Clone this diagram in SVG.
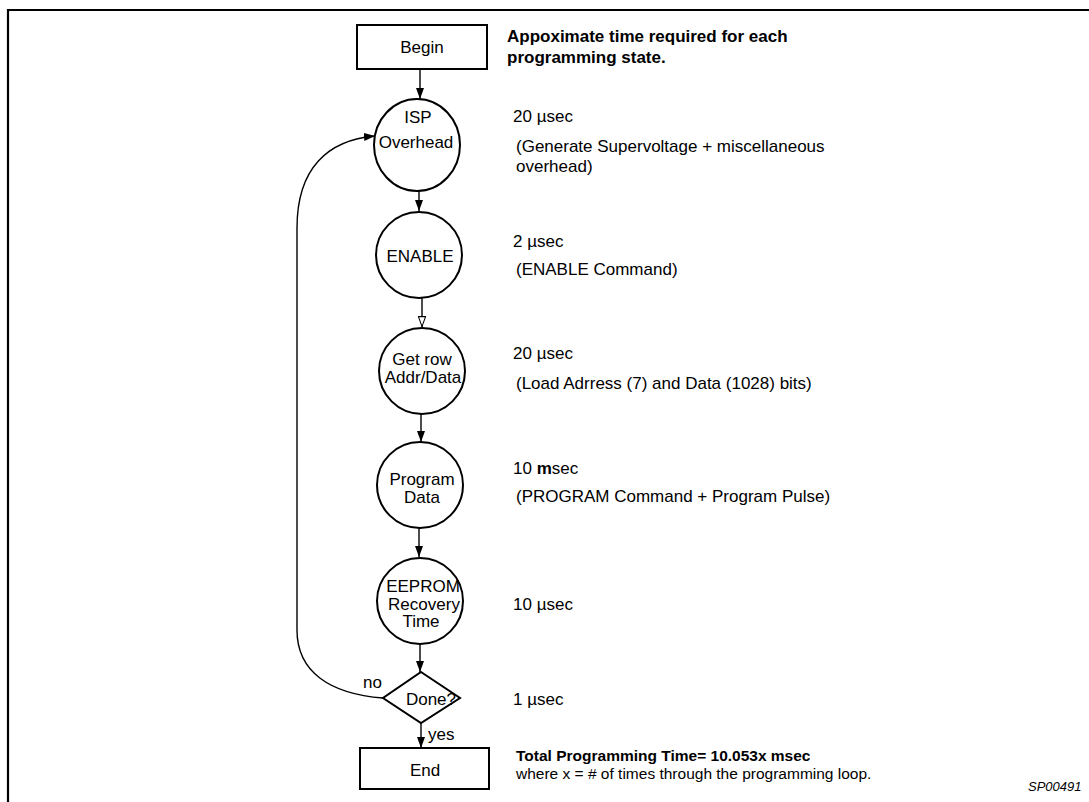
<svg xmlns="http://www.w3.org/2000/svg" width="1089" height="802" viewBox="0 0 1089 802">
<style>
text{font-family:"Liberation Sans",Arial,sans-serif;font-size:17px;fill:#000}
.c{text-anchor:middle}
.b{font-weight:bold}
.s{font-size:15.5px}
.shape{fill:#fff;stroke:#000;stroke-width:2}
.conn{fill:none;stroke:#000;stroke-width:1.4}
.frame{fill:none;stroke:#000;stroke-width:2.2}
</style>
<defs>
<marker id="ah" viewBox="0 0 10 10" refX="10" refY="5" markerWidth="11" markerHeight="8" markerUnits="userSpaceOnUse" orient="auto" preserveAspectRatio="none"><path d="M0,0 L10,5 L0,10 z" fill="#000"/></marker>
<marker id="ao" viewBox="0 0 10 10" refX="10" refY="5" markerWidth="11" markerHeight="8" markerUnits="userSpaceOnUse" orient="auto" preserveAspectRatio="none"><path d="M0.5,0.5 L9.5,5 L0.5,9.5 z" fill="#fff" stroke="#000" stroke-width="1.2"/></marker>
</defs>
<rect width="1089" height="802" fill="#fff"/>
<path class="frame" d="M8,802 L8,10 L1089,10"/>

<g id="connectors">
<path class="conn" d="M420,69 L420,99" marker-end="url(#ah)"/>
<path class="conn" d="M419,191 L419,211" marker-end="url(#ah)"/>
<path class="conn" d="M422,298 L422,327" marker-end="url(#ao)"/>
<path class="conn" d="M421,414 L421,442" marker-end="url(#ah)"/>
<path class="conn" d="M419,528 L419,557" marker-end="url(#ah)"/>
<path class="conn" d="M420,644 L420,672" marker-end="url(#ah)"/>
<path class="conn" d="M421,723 L421,748" marker-end="url(#ah)"/>
<path class="conn" d="M383,698 C330,694 297,672 297,630 L297,228 C297,168 328,140 375,136" marker-end="url(#ah)"/>
</g>

<g id="begin"><rect class="shape" x="357" y="25" width="130" height="44"/><text class="c" x="422" y="53">Begin</text></g>
<g id="isp"><ellipse class="shape" cx="417" cy="145" rx="43" ry="46"/><text class="c" x="418" y="123">ISP</text><text class="c" x="416" y="148">Overhead</text></g>
<g id="enable"><circle class="shape" cx="419" cy="255" r="43"/><text class="c" x="420" y="262">ENABLE</text></g>
<g id="getrow"><circle class="shape" cx="422" cy="371" r="43"/><text class="c" x="422" y="365">Get row</text><text class="c" x="423" y="383">Addr/Data</text></g>
<g id="program"><circle class="shape" cx="420" cy="485" r="43"/><text class="c" x="422" y="485">Program</text><text class="c" x="422" y="503">Data</text></g>
<g id="eeprom"><circle class="shape" cx="420" cy="601" r="43"/><text class="c" x="423" y="592">EEPROM</text><text class="c" x="424" y="610">Recovery</text><text class="c" x="421" y="627">Time</text></g>
<g id="done"><polygon class="shape" points="421,672 460,698 421,723 383,698"/><text class="c" x="431" y="705">Done?</text><text x="363" y="688">no</text><text x="428" y="740">yes</text></g>
<g id="end"><rect class="shape" x="360" y="748" width="129" height="41"/><text class="c" x="425" y="776">End</text></g>

<g id="notes">
<text class="b" x="507" y="42">Appoximate time required for each</text>
<text class="b" x="507" y="63">programming state.</text>
<text x="513" y="122">20 µsec</text>
<text x="516" y="152">(Generate Supervoltage + miscellaneous</text>
<text x="516" y="172">overhead)</text>
<text x="513" y="247">2 µsec</text>
<text x="516" y="275">(ENABLE Command)</text>
<text x="513" y="359">20 µsec</text>
<text x="516" y="389">(Load Adrress (7) and Data (1028) bits)</text>
<text x="513" y="474">10 <tspan class="b">m</tspan>sec</text>
<text x="516" y="502">(PROGRAM Command + Program Pulse)</text>
<text x="513" y="610">10 µsec</text>
<text x="513" y="705">1 µsec</text>
<text class="b s" x="516" y="761">Total Programming Time= 10.053x msec</text>
<text class="s" x="516" y="779">where x = # of times through the programming loop.</text>
<text x="1028" y="791" style="font-size:13px;font-style:italic">SP00491</text>
</g>
</svg>
